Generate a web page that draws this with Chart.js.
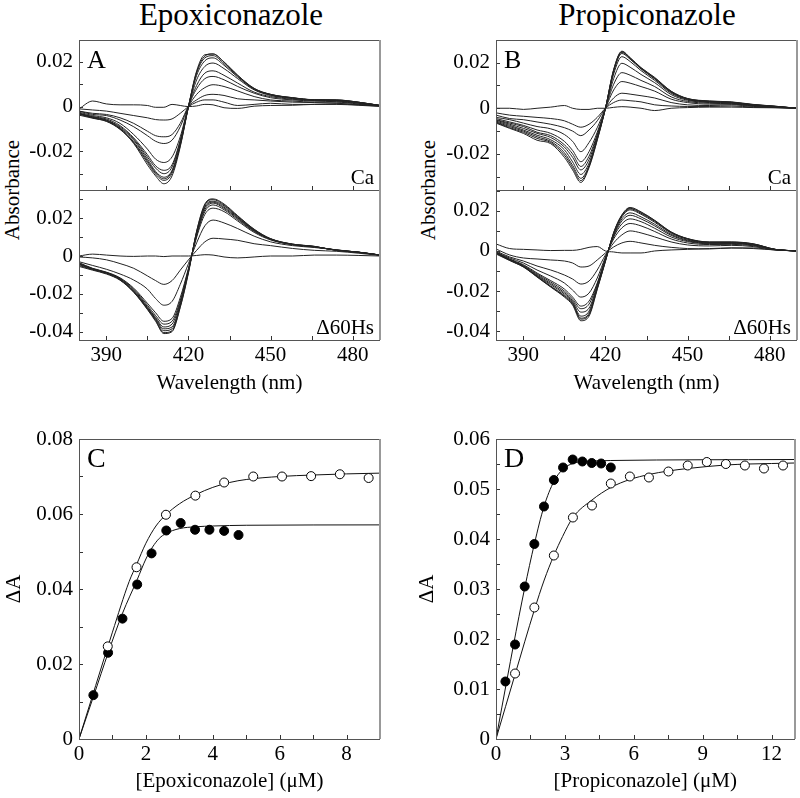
<!DOCTYPE html>
<html>
<head>
<meta charset="utf-8">
<script src="https://cdn.jsdelivr.net/npm/chart.js@4.4.1/dist/chart.umd.min.js"></script>
<style>
body { margin: 0; background: #fff; }
#wrap { position: relative; width: 800px; height: 798px; font-family: "Liberation Serif", "Times New Roman", serif; color: #000; }
canvas { position: absolute; }
.title { position: absolute; top: -3px; font-size: 31px; transform: translateX(-50%); white-space: nowrap; }
.ylab { position: absolute; font-size: 21px; transform: translate(-50%, -50%) rotate(-90deg); white-space: nowrap; }
</style>
</head>
<body>
<div id="wrap">
  <div class="title" style="left:231px">Epoxiconazole</div>
  <div class="title" style="left:647px">Propiconazole</div>
  <div class="ylab" style="left:12px; top:190px">Absorbance</div>
  <div class="ylab" style="left:428px; top:190px">Absorbance</div>
  <canvas id="cA1" width="400" height="200" style="left:0; top:0"></canvas>
  <canvas id="cA2" width="400" height="220" style="left:0; top:180px"></canvas>
  <canvas id="cB1" width="400" height="200" style="left:400px; top:0"></canvas>
  <canvas id="cB2" width="400" height="220" style="left:400px; top:180px"></canvas>
  <canvas id="cC" width="400" height="378" style="left:0; top:420px"></canvas>
  <canvas id="cD" width="400" height="378" style="left:400px; top:420px"></canvas>
</div>
<script>
// wavelengths (nm) shared by all spectra
const wavelength = [380, 385, 390, 395, 400, 405, 408, 411, 414, 417, 420, 423, 426, 429, 433, 438, 444, 450, 458, 466, 474, 482, 490];

// A top: epoxiconazole, Ca
const epoxCa = [
  [-0.001, 0.0025, 0.0012, 0.0008, 0.0008, 0.0005, -0.0003, -0.0003, 0.001, 0.0005, 0, 0.0003, 0.001, 0.0008, -0.0005, -0.0008, 0.0002, 0.0005, 0.0006, 0.001, 0.001, 0.0006, 0.0001],
  [-0.001, -0.0015, -0.002, -0.003, -0.004, -0.005, -0.0058, -0.006, -0.0055, -0.003, 0, 0.002, 0.003, 0.003, 0.002, 0.0005, 0.001, 0.0015, 0.001, 0.001, 0.0012, 0.0008, 0.0002],
  [-0.002, -0.003, -0.0035, -0.005, -0.0075, -0.011, -0.013, -0.0135, -0.0125, -0.0075, 0, 0.003, 0.005, 0.0055, 0.005, 0.0035, 0.003, 0.0025, 0.002, 0.0018, 0.0015, 0.001, 0.0003],
  [-0.002, -0.0035, -0.004, -0.006, -0.009, -0.013, -0.0155, -0.0165, -0.015, -0.009, 0, 0.0055, 0.0085, 0.0098, 0.009, 0.007, 0.0045, 0.003, 0.0025, 0.002, 0.002, 0.0012, 0.0004],
  [-0.0025, -0.004, -0.005, -0.0075, -0.0125, -0.019, -0.0235, -0.025, -0.0225, -0.0135, 0, 0.008, 0.0125, 0.0135, 0.012, 0.009, 0.006, 0.004, 0.003, 0.0025, 0.0022, 0.0015, 0.0005],
  [-0.003, -0.0045, -0.0055, -0.0085, -0.014, -0.0215, -0.0265, -0.0285, -0.026, -0.015, 0, 0.0095, 0.015, 0.016, 0.014, 0.0105, 0.0065, 0.0045, 0.0033, 0.0027, 0.0025, 0.0017, 0.0005],
  [-0.003, -0.0045, -0.006, -0.009, -0.0145, -0.0225, -0.0275, -0.030, -0.027, -0.0155, 0, 0.012, 0.018, 0.0195, 0.017, 0.0125, 0.0075, 0.005, 0.0036, 0.003, 0.0027, 0.0018, 0.0005],
  [-0.0032, -0.0048, -0.006, -0.0095, -0.015, -0.0235, -0.029, -0.0316, -0.0285, -0.0165, 0, 0.014, 0.0205, 0.0218, 0.0185, 0.0132, 0.0078, 0.0052, 0.0038, 0.003, 0.0028, 0.0019, 0.0005],
  [-0.0034, -0.005, -0.0063, -0.0098, -0.0158, -0.0243, -0.0296, -0.0323, -0.029, -0.017, 0, 0.015, 0.0218, 0.0228, 0.0192, 0.0136, 0.008, 0.0054, 0.0039, 0.003, 0.0029, 0.002, 0.0005],
  [-0.0038, -0.0052, -0.0066, -0.0102, -0.0162, -0.025, -0.0302, -0.033, -0.0298, -0.0175, 0, 0.0155, 0.0226, 0.0236, 0.0198, 0.014, 0.0082, 0.0055, 0.004, 0.0031, 0.003, 0.002, 0.0005],
  [-0.003, -0.005, -0.0065, -0.010, -0.0165, -0.026, -0.031, -0.0345, -0.031, -0.018, 0, 0.016, 0.0232, 0.0235, 0.020, 0.014, 0.008, 0.0055, 0.004, 0.003, 0.003, 0.002, 0.0005]
];

// A bottom: epoxiconazole, delta60Hs
const epoxHs = [
  [0, 0.001, 0.0005, 0, -0.0002, 0, 0, -0.0003, 0, 0, 0, 0.0003, 0.0007, 0.0005, -0.0005, -0.001, -0.0005, 0, 0, 0.0005, 0.0005, 0.0003, 0],
  [-0.0005, -0.001, -0.002, -0.004, -0.0065, -0.0105, -0.013, -0.015, -0.013, -0.0075, -0.002, 0.003, 0.0075, 0.0094, 0.009, 0.0083, 0.0065, 0.0055, 0.004, 0.003, 0.0025, 0.0015, 0.0003],
  [-0.003, -0.005, -0.007, -0.0095, -0.0127, -0.0175, -0.0225, -0.026, -0.024, -0.015, -0.004, 0.007, 0.016, 0.019, 0.0175, 0.0145, 0.0105, 0.0075, 0.0055, 0.0045, 0.0033, 0.002, 0.0005],
  [-0.0035, -0.0065, -0.0085, -0.0115, -0.017, -0.025, -0.030, -0.0345, -0.033, -0.022, -0.0065, 0.010, 0.022, 0.0253, 0.0235, 0.0185, 0.0125, 0.0085, 0.006, 0.0048, 0.0032, 0.002, 0.0005],
  [-0.0038, -0.0067, -0.0087, -0.0118, -0.0175, -0.026, -0.0315, -0.036, -0.0345, -0.0235, -0.007, 0.0108, 0.0235, 0.027, 0.0245, 0.0192, 0.013, 0.0088, 0.006, 0.0048, 0.0032, 0.002, 0.0005],
  [-0.004, -0.0068, -0.0088, -0.012, -0.018, -0.0268, -0.0325, -0.0375, -0.036, -0.0245, -0.0075, 0.0115, 0.0245, 0.028, 0.0252, 0.0198, 0.0133, 0.0089, 0.0061, 0.0049, 0.0031, 0.0021, 0.0005],
  [-0.0042, -0.0069, -0.0089, -0.0122, -0.0185, -0.0273, -0.033, -0.0385, -0.0375, -0.0255, -0.0078, 0.012, 0.0255, 0.0285, 0.0258, 0.0202, 0.0136, 0.009, 0.0062, 0.005, 0.0031, 0.0021, 0.0005],
  [-0.0045, -0.007, -0.009, -0.0124, -0.0188, -0.0277, -0.0335, -0.0395, -0.0385, -0.026, -0.008, 0.0125, 0.0262, 0.029, 0.0265, 0.0206, 0.0138, 0.009, 0.0062, 0.005, 0.003, 0.002, 0.0005],
  [-0.005, -0.0072, -0.0092, -0.0126, -0.019, -0.028, -0.034, -0.0405, -0.0395, -0.0268, -0.0085, 0.013, 0.027, 0.0298, 0.027, 0.021, 0.014, 0.0091, 0.0063, 0.0051, 0.003, 0.002, 0.0005],
  [-0.0055, -0.0075, -0.0095, -0.0128, -0.0192, -0.0283, -0.0345, -0.041, -0.040, -0.0272, -0.009, 0.0132, 0.0275, 0.0302, 0.0275, 0.0213, 0.0142, 0.0092, 0.0063, 0.0051, 0.003, 0.002, 0.0005]
];

// B top: propiconazole, Ca
const propCa = [
  [0, 0, -0.0005, 0, 0.0005, 0.0012, 0, -0.0005, -0.0005, 0, 0, 0.0004, 0.0007, 0.0005, 0, -0.001, 0, 0.0003, 0.0005, 0.0005, 0.0003, 0.0002, 0],
  [-0.002, -0.003, -0.0035, -0.004, -0.0045, -0.0055, -0.007, -0.0083, -0.007, -0.004, 0, 0.0025, 0.0036, 0.0033, 0.0028, 0.0015, 0.001, 0.0008, 0.0008, 0.001, 0.0005, 0.0003, 0],
  [-0.003, -0.0045, -0.005, -0.006, -0.007, -0.0085, -0.010, -0.012, -0.0095, -0.0055, 0, 0.0045, 0.0066, 0.0062, 0.0055, 0.0045, 0.0025, 0.0015, 0.0012, 0.0015, 0.0008, 0.0004, 0],
  [-0.004, -0.005, -0.0065, -0.008, -0.009, -0.0115, -0.0145, -0.019, -0.015, -0.0085, 0, 0.008, 0.0117, 0.011, 0.0095, 0.0075, 0.004, 0.0025, 0.0018, 0.0018, 0.001, 0.0005, 0],
  [-0.0045, -0.006, -0.0075, -0.0095, -0.011, -0.0145, -0.0185, -0.0234, -0.019, -0.0105, 0, 0.0105, 0.0156, 0.0145, 0.0122, 0.0095, 0.005, 0.003, 0.0022, 0.002, 0.0012, 0.0006, 0],
  [-0.005, -0.0065, -0.008, -0.0105, -0.012, -0.016, -0.020, -0.0255, -0.021, -0.0115, 0, 0.013, 0.0197, 0.018, 0.0148, 0.0112, 0.006, 0.0035, 0.0025, 0.0022, 0.0013, 0.0007, 0],
  [-0.0052, -0.007, -0.0088, -0.011, -0.0128, -0.017, -0.0215, -0.027, -0.0225, -0.012, 0, 0.015, 0.0226, 0.0205, 0.0165, 0.0122, 0.0066, 0.0038, 0.0027, 0.0024, 0.0014, 0.0008, 0],
  [-0.0056, -0.0075, -0.0095, -0.0118, -0.0138, -0.0182, -0.0235, -0.029, -0.024, -0.0128, 0, 0.016, 0.024, 0.0215, 0.0172, 0.0128, 0.007, 0.004, 0.0029, 0.0025, 0.0015, 0.0008, 0],
  [-0.006, -0.008, -0.010, -0.0125, -0.0145, -0.0195, -0.025, -0.0307, -0.025, -0.0133, 0, 0.0165, 0.0245, 0.0218, 0.0175, 0.013, 0.0072, 0.0041, 0.003, 0.0026, 0.0015, 0.0008, 0],
  [-0.0062, -0.0085, -0.0105, -0.0132, -0.015, -0.0205, -0.026, -0.0317, -0.0255, -0.0137, 0, 0.0168, 0.0248, 0.022, 0.0177, 0.0133, 0.0074, 0.0042, 0.0031, 0.0027, 0.0016, 0.0009, 0],
  [-0.0065, -0.0088, -0.011, -0.014, -0.0155, -0.0215, -0.027, -0.0325, -0.026, -0.014, 0, 0.017, 0.025, 0.0222, 0.0178, 0.0135, 0.0075, 0.0043, 0.0032, 0.0028, 0.0017, 0.0009, 0]
];

// B bottom: propiconazole, delta60Hs
const propHs = [
  [0.0035, 0.0012, 0.0008, 0.0005, 0.0002, 0.0003, 0.0003, 0.0008, 0.0018, 0.0022, 0, -0.0005, -0.001, -0.001, -0.001, 0, 0.0005, 0.0008, 0.0012, 0.0015, 0.0012, 0.0005, 0],
  [0.001, -0.002, -0.0035, -0.004, -0.0045, -0.005, -0.006, -0.008, -0.0075, -0.0045, -0.001, 0.002, 0.004, 0.0048, 0.004, 0.0028, 0.0018, 0.0012, 0.001, 0.0015, 0.0015, 0.0005, 0],
  [0, -0.003, -0.005, -0.0075, -0.0095, -0.012, -0.014, -0.0165, -0.015, -0.0095, -0.002, 0.004, 0.008, 0.010, 0.009, 0.007, 0.0045, 0.003, 0.0025, 0.0028, 0.0022, 0.0006, 0],
  [-0.0005, -0.0035, -0.006, -0.0095, -0.0125, -0.016, -0.0195, -0.023, -0.021, -0.0135, -0.003, 0.006, 0.0115, 0.0137, 0.0125, 0.0097, 0.006, 0.004, 0.0032, 0.0033, 0.0026, 0.0007, 0],
  [-0.0005, -0.004, -0.0068, -0.011, -0.0148, -0.019, -0.023, -0.0275, -0.025, -0.016, -0.0035, 0.007, 0.0135, 0.016, 0.0146, 0.0113, 0.007, 0.0047, 0.0036, 0.0037, 0.0029, 0.0007, 0],
  [-0.0008, -0.0042, -0.0072, -0.0115, -0.0155, -0.020, -0.024, -0.0288, -0.0265, -0.0165, -0.004, 0.0075, 0.015, 0.0178, 0.016, 0.0125, 0.0078, 0.0051, 0.0038, 0.0039, 0.003, 0.0007, 0],
  [-0.0008, -0.0043, -0.0075, -0.012, -0.0162, -0.0208, -0.0248, -0.0305, -0.0285, -0.0172, -0.0043, 0.008, 0.016, 0.019, 0.017, 0.0133, 0.0083, 0.0054, 0.004, 0.004, 0.0031, 0.0007, 0],
  [-0.0009, -0.0044, -0.0077, -0.0124, -0.0168, -0.0215, -0.0255, -0.0325, -0.030, -0.018, -0.0046, 0.0085, 0.017, 0.0205, 0.0183, 0.0143, 0.0089, 0.0058, 0.0042, 0.0042, 0.0033, 0.0008, 0],
  [-0.001, -0.0045, -0.0078, -0.0127, -0.0175, -0.0222, -0.026, -0.0335, -0.031, -0.0185, -0.0048, 0.0088, 0.0175, 0.021, 0.0188, 0.0148, 0.0092, 0.006, 0.0043, 0.0043, 0.0034, 0.0008, 0],
  [-0.0012, -0.0046, -0.0079, -0.0128, -0.0178, -0.0226, -0.0265, -0.034, -0.0318, -0.0188, -0.005, 0.009, 0.0178, 0.0213, 0.0192, 0.0151, 0.0094, 0.0061, 0.0044, 0.0044, 0.0035, 0.0008, 0],
  [-0.0015, -0.0048, -0.008, -0.013, -0.018, -0.023, -0.027, -0.0348, -0.0325, -0.0192, -0.0052, 0.0092, 0.018, 0.0217, 0.0195, 0.0153, 0.0095, 0.0062, 0.0045, 0.0045, 0.0036, 0.0008, 0]
];

// C: titration with epoxiconazole (uM, deltaA)
const epoxFilledX = [0.43, 0.87, 1.3, 1.74, 2.17, 2.61, 3.04, 3.47, 3.9, 4.34, 4.77];
const epoxFilledY = [0.0117, 0.0230, 0.0321, 0.0412, 0.0495, 0.0556, 0.0576, 0.0558, 0.0558, 0.0555, 0.0544];
const epoxOpenX = [0.86, 1.72, 2.6, 3.48, 4.34, 5.21, 6.07, 6.94, 7.80, 8.66];
const epoxOpenY = [0.0247, 0.0458, 0.0598, 0.0649, 0.0684, 0.0700, 0.0700, 0.0701, 0.0706, 0.0696];
const epoxFilledFitX = [0, 0.45, 0.88, 1.3, 1.74, 2, 2.2, 2.4, 2.6, 3, 3.5, 4, 5, 9];
const epoxFilledFitY = [0, 0.0118, 0.0232, 0.0335, 0.0425, 0.048, 0.0512, 0.0535, 0.0548, 0.0561, 0.0566, 0.0568, 0.057, 0.0571];
const epoxOpenFitX = [0, 0.5, 1, 1.5, 1.72, 2, 2.3, 2.6, 3, 3.5, 4, 4.5, 5, 6, 7, 8, 9];
const epoxOpenFitY = [0, 0.0143, 0.0285, 0.042, 0.0465, 0.0522, 0.0568, 0.0598, 0.0627, 0.0652, 0.0671, 0.0684, 0.0692, 0.0700, 0.0704, 0.0707, 0.0709];

// D: titration with propiconazole
const propFilledX = [0.41, 0.83, 1.25, 1.67, 2.09, 2.52, 2.92, 3.34, 3.76, 4.17, 4.58, 5.0];
const propFilledY = [0.0115, 0.0189, 0.0305, 0.039, 0.0465, 0.0518, 0.0543, 0.0559, 0.0555, 0.0552, 0.0551, 0.0543];
const propOpenX = [0.83, 1.67, 2.52, 3.35, 4.18, 5.0, 5.83, 6.66, 7.51, 8.35, 9.18, 10.01, 10.84, 11.67, 12.5];
const propOpenY = [0.0131, 0.0263, 0.0367, 0.0443, 0.0467, 0.0511, 0.0525, 0.0523, 0.0535, 0.0547, 0.0554, 0.055, 0.0547, 0.0541, 0.0547];
const propFilledFitX = [0, 0.5, 1, 1.25, 1.67, 2.09, 2.52, 2.92, 3.34, 3.76, 4.2, 5, 13];
const propFilledFitY = [0, 0.0124, 0.0245, 0.0302, 0.039, 0.0465, 0.0515, 0.054, 0.0551, 0.0555, 0.0556, 0.0557, 0.0559];
const propOpenFitX = [0, 0.83, 1.67, 2.1, 2.52, 2.9, 3.35, 4.18, 5, 5.83, 6.66, 7.5, 8.35, 9.2, 10, 11, 12, 13];
const propOpenFitY = [0, 0.0129, 0.0258, 0.0318, 0.0367, 0.0405, 0.0443, 0.0478, 0.0503, 0.0519, 0.0529, 0.0536, 0.0541, 0.0545, 0.0548, 0.055, 0.0551, 0.0552];

Chart.defaults.font.family = '"Liberation Serif", "Times New Roman", serif';
Chart.defaults.font.size = 21;
Chart.defaults.color = '#000';
Chart.defaults.animation = false;
Chart.defaults.plugins.legend.display = false;
Chart.defaults.plugins.tooltip.enabled = false;

function fmt(v) {
    if (Math.abs(v) < 1e-9) return '0';
    return v.toFixed(2);
}

// frame, inward ticks and panel letters
const framePlugin = {
    id: 'frame',
    afterDraw(chart, args, opts) {
        const { ctx, chartArea: a, scales } = chart;
        ctx.save();
        ctx.strokeStyle = '#333';
        ctx.lineWidth = 1;
        ctx.beginPath();
        scales.x.ticks.forEach(t => {
            const px = Math.round(scales.x.getPixelForValue(t.value)) + 0.5;
            ctx.moveTo(px, a.bottom);
            ctx.lineTo(px, a.bottom - 4);
        });
        scales.y.ticks.forEach(t => {
            const py = Math.round(scales.y.getPixelForValue(t.value)) + 0.5;
            ctx.moveTo(a.left, py);
            ctx.lineTo(a.left + 4, py);
        });
        ctx.stroke();
        ctx.strokeStyle = '#555';
        ctx.strokeRect(Math.round(a.left) + 0.5, Math.round(a.top) + 0.5, Math.round(a.width) - 1, Math.round(a.height));
        ctx.strokeStyle = '#999';
        ctx.lineWidth = 2;
        ctx.beginPath();
        ctx.moveTo(Math.round(a.right), a.top);
        ctx.lineTo(Math.round(a.right), a.bottom);
        ctx.stroke();
        ctx.fillStyle = '#000';
        if (opts.letter) {
            ctx.font = opts.letterSize + 'px "Liberation Serif", serif';
            ctx.textAlign = 'left';
            ctx.textBaseline = 'alphabetic';
            ctx.fillText(opts.letter, a.left + 8, a.top + 28);
        }
        if (opts.note) {
            ctx.font = '21px "Liberation Serif", serif';
            ctx.textAlign = 'right';
            ctx.textBaseline = 'alphabetic';
            ctx.fillText(opts.note, a.right - 6, a.bottom - 6);
        }
        ctx.restore();
    }
};

function makeChart(id, o) {
    const datasets = [];
    (o.points || []).forEach(p => {
        datasets.push({
            data: p.x.map((x, i) => ({ x, y: p.y[i] })),
            showLine: false,
            pointRadius: 4.5,
            pointBackgroundColor: p.filled ? '#000' : '#fff',
            pointBorderColor: '#000',
            pointBorderWidth: 1
        });
    });
    (o.lines || []).forEach(l => {
        datasets.push({
            data: l.x.map((x, i) => ({ x, y: l.y[i] })),
            showLine: true,
            pointRadius: 0,
            borderColor: o.lineColor || '#111',
            borderWidth: 1,
            cubicInterpolationMode: 'monotone'
        });
    });
    return new Chart(document.getElementById(id), {
        type: 'scatter',
        data: { datasets },
        options: {
            responsive: false,
            devicePixelRatio: 1,
            layout: { padding: { top: o.padTop, right: o.padRight, bottom: 0, left: 0 } },
            scales: {
                x: {
                    type: 'linear',
                    min: o.xMin, max: o.xMax,
                    grid: { display: false, drawTicks: false },
                    border: { display: false },
                    afterFit: s => { s.height = o.xHeight; s.paddingLeft = 0; s.paddingRight = 0; },
                    ticks: {
                        stepSize: o.xStep, autoSkip: false, maxRotation: 0, padding: 3,
                        includeBounds: false, display: !!o.xLabel,
                        callback: o.xLabel || (() => '')
                    },
                    title: { display: !!o.xTitle, text: o.xTitle || '', padding: { bottom: 4, top: 0 } }
                },
                y: {
                    type: 'linear',
                    min: o.yMin, max: o.yMax,
                    grid: { display: false, drawTicks: false },
                    border: { display: false },
                    afterFit: s => { s.width = o.yWidth; s.paddingTop = 0; s.paddingBottom = 0; },
                    ticks: {
                        stepSize: o.yStep, autoSkip: false, padding: 6,
                        includeBounds: false, callback: o.yLabel
                    },
                    title: { display: !!o.yTitle, text: o.yTitle || '', padding: { top: o.yTitlePad || 0, bottom: 0 } }
                }
            },
            plugins: { frame: { letter: o.letter, letterSize: o.letterSize || 26, note: o.note } }
        },
        plugins: [framePlugin]
    });
}

const spectraLines = curves => curves.map(c => ({ x: wavelength, y: c }));
const every2 = v => { const k = Math.round(v * 100); return k % 2 === 0 ? fmt(k / 100) : ''; };
const wlLabel = v => (Math.round(v) % 30 === 0 ? String(Math.round(v)) : '');

makeChart('cA1', {
    lines: spectraLines(epoxCa), lineColor: '#222',
    padTop: 40, padRight: 20, yWidth: 79, xHeight: 10,
    xMin: 380, xMax: 490, xStep: 15,
    yMin: -0.0373, yMax: 0.0298, yStep: 0.01, yLabel: every2,
    letter: 'A', note: 'Ca'
});
makeChart('cA2', {
    lines: spectraLines(epoxHs), lineColor: '#222',
    padTop: 10, padRight: 20, yWidth: 79, xHeight: 60,
    xMin: 380, xMax: 490, xStep: 15, xLabel: wlLabel, xTitle: 'Wavelength (nm)',
    yMin: -0.0444, yMax: 0.0349, yStep: 0.01, yLabel: every2,
    note: '\u039460Hs'
});
makeChart('cB1', {
    lines: spectraLines(propCa), lineColor: '#222',
    padTop: 40, padRight: 3, yWidth: 96, xHeight: 10,
    xMin: 380, xMax: 490, xStep: 15,
    yMin: -0.0358, yMax: 0.0299, yStep: 0.01, yLabel: every2,
    letter: 'B', note: 'Ca'
});
makeChart('cB2', {
    lines: spectraLines(propHs), lineColor: '#222',
    padTop: 10, padRight: 3, yWidth: 96, xHeight: 60,
    xMin: 380, xMax: 490, xStep: 15, xLabel: wlLabel, xTitle: 'Wavelength (nm)',
    yMin: -0.0444, yMax: 0.0304, yStep: 0.01, yLabel: every2,
    note: '\u039460Hs'
});
makeChart('cC', {
    points: [
        { x: epoxOpenX, y: epoxOpenY, filled: false },
        { x: epoxFilledX, y: epoxFilledY, filled: true }
    ],
    lines: [
        { x: epoxOpenFitX, y: epoxOpenFitY },
        { x: epoxFilledFitX, y: epoxFilledFitY }
    ],
    padTop: 19, padRight: 20, yWidth: 79, xHeight: 59,
    xMin: 0, xMax: 9, xStep: 1, xLabel: v => (Math.round(v) % 2 === 0 ? String(Math.round(v)) : ''),
    xTitle: '[Epoxiconazole] (\u03bcM)',
    yMin: 0, yMax: 0.08, yStep: 0.01, yLabel: every2,
    yTitle: '\u0394A', yTitlePad: 2,
    letter: 'C', letterSize: 28
});
makeChart('cD', {
    points: [
        { x: propFilledX, y: propFilledY, filled: true },
        { x: propOpenX, y: propOpenY, filled: false }
    ],
    lines: [
        { x: propFilledFitX, y: propFilledFitY },
        { x: propOpenFitX, y: propOpenFitY }
    ],
    padTop: 19, padRight: 3, yWidth: 96, xHeight: 59,
    xMin: 0, xMax: 13, xStep: 1.5, xLabel: v => (Math.abs(v / 3 - Math.round(v / 3)) < 1e-6 ? String(Math.round(v)) : ''),
    xTitle: '[Propiconazole] (\u03bcM)',
    yMin: 0, yMax: 0.06, yStep: 0.005,
    yLabel: v => { const k = Math.round(v * 1000); return k % 10 === 0 ? fmt(k / 1000) : ''; },
    yTitle: '\u0394A', yTitlePad: 15,
    letter: 'D', letterSize: 28
});
</script>
</body>
</html>
